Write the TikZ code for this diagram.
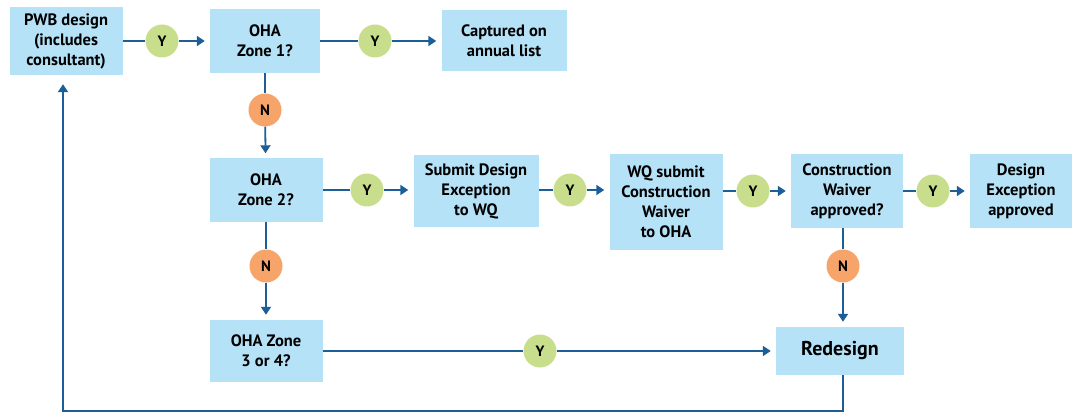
\documentclass[tikz,border=0pt]{standalone}
\usepackage{fontspec}
\setmainfont{PT Sans}
\usepackage{tikz}
\usetikzlibrary{arrows.meta,positioning}
\definecolor{BoxBlue}{HTML}{B5E2F7}
\definecolor{LineBlue}{HTML}{1D5E96}
\definecolor{YesGreen}{HTML}{C8DE8C}
\definecolor{NoOrange}{HTML}{F7A46A}

\begin{document}
\begin{tikzpicture}[x=1pt,y=-1pt,>={Triangle[width=10pt,length=8pt]},
    stepbox/.style={fill=BoxBlue,align=center,inner sep=2pt,font=\bfseries\fontsize{16.5}{20}\selectfont},
    yes/.style={circle,fill=YesGreen,minimum size=33pt,inner sep=0pt,font=\bfseries\fontsize{15}{15}\selectfont},
    no/.style={circle,fill=NoOrange,minimum size=33pt,inner sep=0pt,font=\bfseries\fontsize{15}{15}\selectfont},
    link/.style={draw=LineBlue,line width=1.8pt},
    go/.style={link,->,shorten >=5pt}]
    \useasboundingbox (0,0) rectangle (1073,414);

    % Draw the steps
    \node[stepbox,minimum width=113pt,minimum height=68pt] (pwb) at (66,41) {PWB design\\(includes\\consultant)};
    \node[stepbox,minimum width=110pt,minimum height=64pt] (zone1) at (265,41) {OHA\\Zone 1?};
    \node[stepbox,minimum width=125pt,minimum height=61pt] (annual) at (504,41) {Captured on\\annual list};
    \node[stepbox,minimum width=113pt,minimum height=63pt] (zone2) at (266,190) {OHA\\Zone 2?};
    \node[stepbox,minimum width=125pt,minimum height=72pt] (submit) at (476,191) {Submit Design\\Exception\\to WQ};
    \node[stepbox,minimum width=113pt,minimum height=96pt] (wqsub) at (666,202) {WQ submit\\Construction\\Waiver\\to OHA};
    \node[stepbox,minimum width=112pt,minimum height=74pt] (waiver) at (847,191) {Construction\\Waiver\\approved?};
    \node[stepbox,minimum width=102pt,minimum height=74pt] (except) at (1021,191) {Design\\Exception\\approved};
    \node[stepbox,minimum width=113pt,minimum height=62pt] (zone34) at (266,351) {OHA Zone\\3 or 4?};
    \node[stepbox,minimum width=128pt,minimum height=48pt,font=\bfseries\fontsize{20}{22}\selectfont] (redesign) at (840,351) {Redesign};

    % Draw the yes answers
    \foreach \name/\x/\y in {ya/162/41, yb/375/41, yc/367/190, yd/570/190, ye/753/191, yf/933/191, yg/540/351}{
        \node[yes] (\name) at (\x,\y) {Y};
    }
    % Draw the no answers
    \foreach \name/\x/\y in {na/265/110, nb/266/266, nc/843/266}{
        \node[no] (\name) at (\x,\y) {N};
    }

    % Draw the connectors
    \foreach \source/\answer/\dest in {pwb/ya/zone1, zone1/yb/annual, zone2/yc/submit, submit/yd/wqsub, wqsub/ye/waiver, waiver/yf/except, zone34/yg/redesign}{
        \draw[link] (\answer -| \source.east) -- (\answer);
        \draw[go] (\answer) -- (\answer -| \dest.west);
    }
    \draw[link] (zone1) -- (na);
    \draw[go] (na) -- (zone2);
    \draw[link] (zone2) -- (nb);
    \draw[go] (nb) -- (zone34);
    \draw[link] (waiver.south -| nc) -- (nc);
    \draw[go] (nc) -- (nc |- redesign.north);

    % Draw the way back to the start
    \coordinate (low) at (843,411);
    \draw[go,shorten >=9pt] (redesign.south -| low) -- (low) -| ([xshift=-3pt]pwb.south);
\end{tikzpicture}
\end{document}
